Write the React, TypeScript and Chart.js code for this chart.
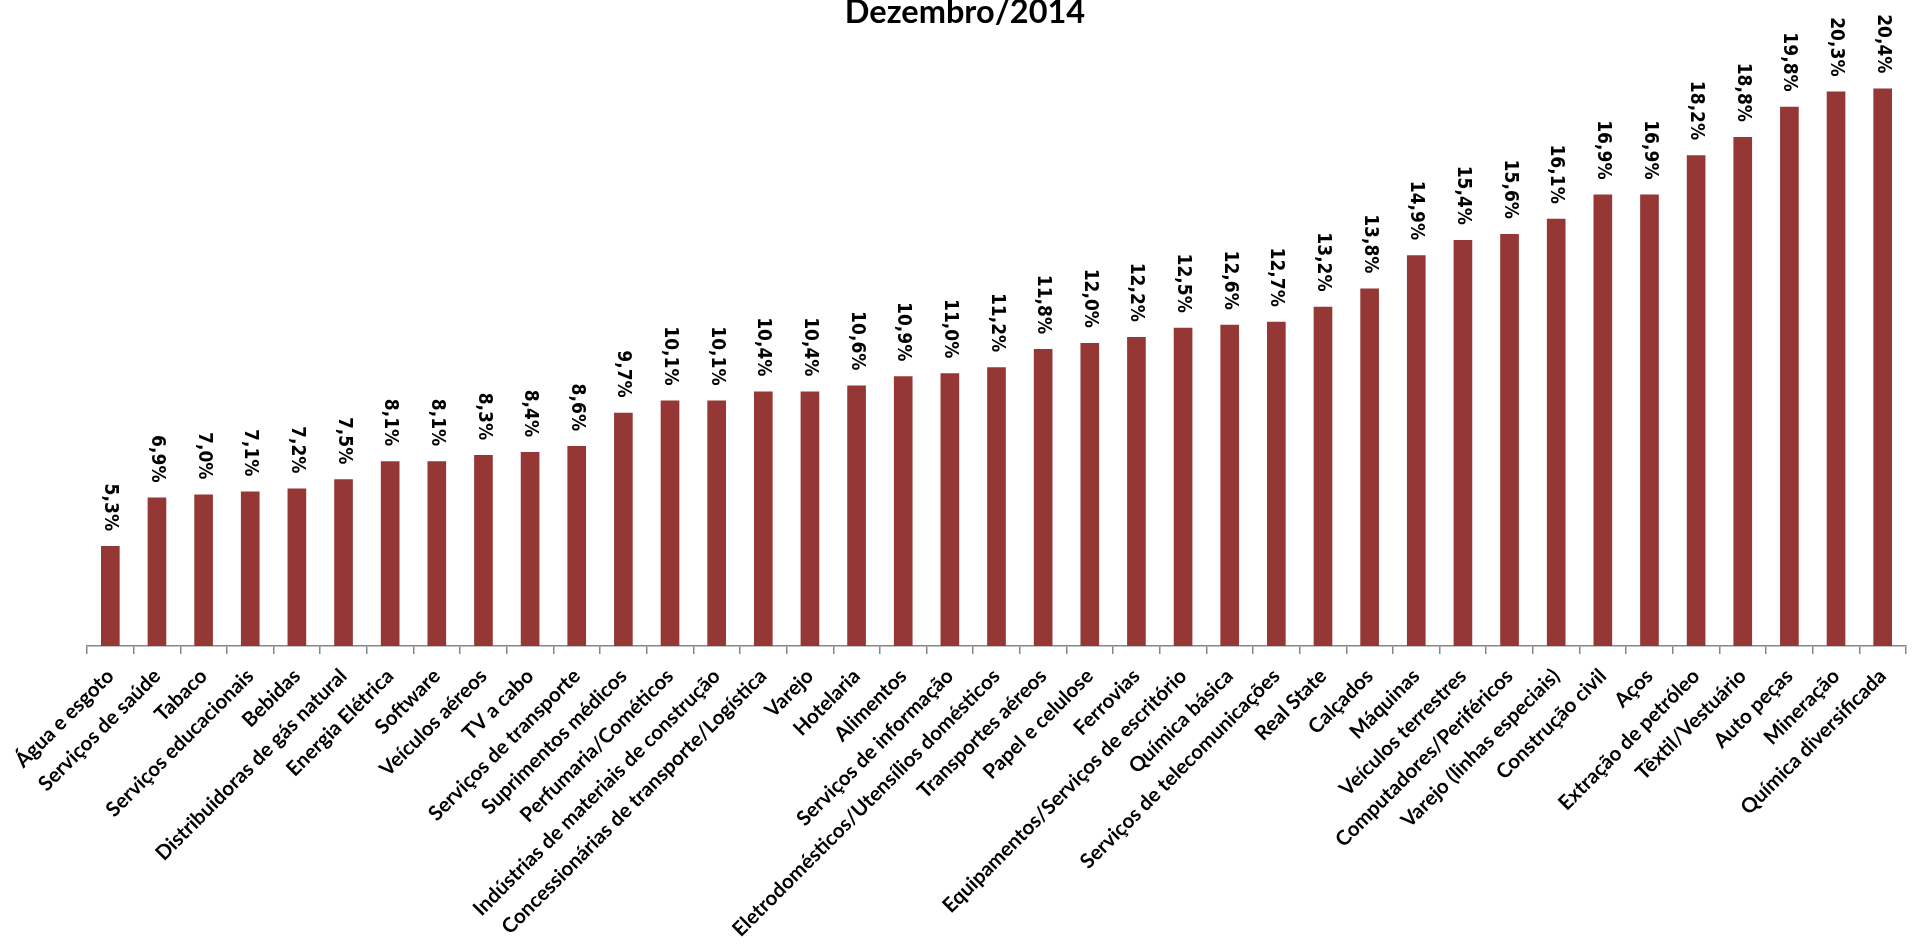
import React, { useEffect, useRef } from "react";
import { Chart, registerables } from "chart.js";

Chart.register(...registerables);

const TITLE = "Dezembro/2014";

const categories: string[] = [
  "Água e esgoto",
  "Serviços de saúde",
  "Tabaco",
  "Serviços educacionais",
  "Bebidas",
  "Distribuidoras de gás natural",
  "Energia Elétrica",
  "Software",
  "Veículos aéreos",
  "TV a cabo",
  "Serviços de transporte",
  "Suprimentos médicos",
  "Perfumaria/Cométicos",
  "Indústrias de materiais de construção",
  "Concessionárias de transporte/Logística",
  "Varejo",
  "Hotelaria",
  "Alimentos",
  "Serviços de informação",
  "Eletrodomésticos/Utensílios domésticos",
  "Transportes aéreos",
  "Papel e celulose",
  "Ferrovias",
  "Equipamentos/Serviços de escritório",
  "Química básica",
  "Serviços de telecomunicações",
  "Real State",
  "Calçados",
  "Máquinas",
  "Veículos terrestres",
  "Computadores/Periféricos",
  "Varejo (linhas especiais)",
  "Construção civil",
  "Aços",
  "Extração de petróleo",
  "Têxtil/Vestuário",
  "Auto peças",
  "Mineração",
  "Química diversificada",
];

const values: number[] = [
  5.3, 6.9, 7.0, 7.1, 7.2, 7.5, 8.1, 8.1, 8.3, 8.4, 8.6, 9.7, 10.1, 10.1, 10.4,
  10.4, 10.6, 10.9, 11.0, 11.2, 11.8, 12.0, 12.2, 12.5, 12.6, 12.7, 13.2, 13.8,
  14.9, 15.4, 15.6, 16.1, 16.9, 16.9, 18.2, 18.8, 19.8, 20.3, 20.4,
];

const Y_MIN = 2;
const Y_MAX = 22;

const fmt = (v: number) => v.toFixed(1).replace(".", ",") + "%";

const labelPlugin = {
  id: "valueLabels",
  afterDatasetsDraw(chart: any) {
    const ctx = chart.ctx;
    const meta = chart.getDatasetMeta(0);
    ctx.save();
    ctx.fillStyle = "#000000";
    ctx.font = "bold 19px 'DejaVu Sans Condensed', 'DejaVu Sans'";
    ctx.textAlign = "right";
    ctx.textBaseline = "middle";
    meta.data.forEach((bar: any, i: number) => {
      ctx.save();
      ctx.translate(bar.x, bar.y - 15);
      ctx.rotate(Math.PI / 2);
      ctx.fillText(fmt(values[i]), 0, 0);
      ctx.restore();
    });
    ctx.restore();
  },
  afterDraw(chart: any) {
    const ctx = chart.ctx;
    ctx.save();
    ctx.fillStyle = "#000000";
    ctx.font = "bold 32.5px Lato";
    ctx.textAlign = "center";
    ctx.textBaseline = "alphabetic";
    ctx.fillText(TITLE, 965, 23);
    ctx.restore();
  },
};

export default function App() {
  const ref = useRef<HTMLCanvasElement | null>(null);
  useEffect(() => {
    document.body.style.margin = "0";
    const canvas = ref.current;
    if (!canvas) return;
    const chart = new Chart(canvas, {
      type: "bar",
      data: {
        labels: categories,
        datasets: [
          {
            data: values,
            backgroundColor: "#953735",
            borderWidth: 0,
            categoryPercentage: 1,
            barPercentage: 0.4,
          },
        ],
      },
      options: {
        animation: false,
        responsive: false,
        devicePixelRatio: 1,
        layout: { padding: { left: 87, right: 13, top: 40, bottom: 0 } },
        plugins: {
          legend: { display: false },
          title: { display: false },
          tooltip: { enabled: false },
        },
        scales: {
          x: {
            offset: true,
            grid: {
              offset: true,
              drawOnChartArea: false,
              drawTicks: true,
              tickLength: 8,
              color: "#868686",
              lineWidth: 1.5,
            },
            border: { display: true, color: "#868686", width: 1.5 },
            ticks: {
              autoSkip: false,
              maxRotation: 45,
              minRotation: 45,
              padding: 10,
              color: "#000000",
              font: { family: "Lato", size: 20.5, weight: "bold" },
            },
            afterFit: (scale: any) => {
              scale.height = 944 - 646;
            },
          },
          y: {
            display: false,
            min: Y_MIN,
            max: Y_MAX,
          },
        },
      },
      plugins: [labelPlugin],
    });
    return () => chart.destroy();
  }, []);
  return (
    <div style={{ width: 1919, height: 944, background: "#ffffff" }}>
      <canvas ref={ref} width={1919} height={944} style={{ display: "block" }} />
    </div>
  );
}
